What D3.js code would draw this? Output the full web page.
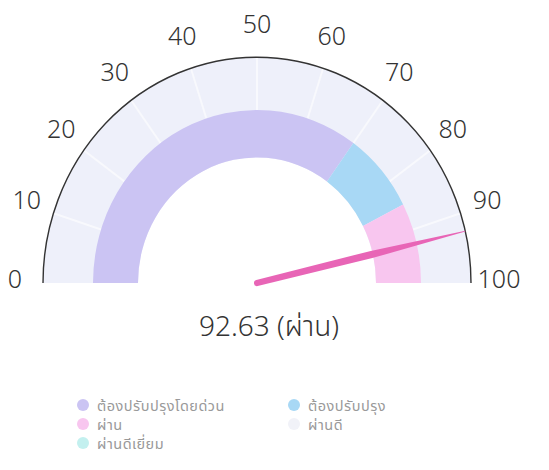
<!DOCTYPE html>
<html>
<head>
<meta charset="utf-8">
<script src="https://cdn.jsdelivr.net/npm/d3@7"></script>
<style>
  body { margin: 0; background: #fff; }
  svg { display: block; font-family: "Noto Sans", "Noto Sans Thai", sans-serif; }
</style>
</head>
<body>
<svg id="chart" width="549" height="470"></svg>
<script>
// gauge value
const gaugeValue = 92.63
const gaugeLabel = 'ผ่าน'

// coloured band on the gauge
const bandFrom = [0, 70, 85]
const bandTo = [70, 85, 100]
const bandColors = ['#cbc4f3', '#a8d8f5', '#f8c6ef']

// ticks
const tickValues = [0, 10, 20, 30, 40, 50, 60, 70, 80, 90, 100]

// legend
const legendNames = ['ต้องปรับปรุงโดยด่วน', 'ต้องปรับปรุง', 'ผ่าน', 'ผ่านดี', 'ผ่านดีเยี่ยม']
const legendColors = ['#cbc4f3', '#a8d8f5', '#f8c6ef', '#f1f2f8', '#c3f0ef']

const cx = 257
const cy = 283
const stretchY = 1.055 // the picture is a bit taller than it is wide
const rOuter = 214
const rBandOuter = 164
const rBandInner = 119
const rLabel = 242

const svg = d3.select('#chart')

const angle = d3.scaleLinear()
  .domain([0, 100])
  .range([-Math.PI / 2, Math.PI / 2])

const g = svg.append('g')
  .attr('transform', `translate(${cx},${cy}) scale(1,${stretchY})`)

// light background band
g.append('path')
  .attr('d', d3.arc()({
    innerRadius: rBandInner,
    outerRadius: rOuter,
    startAngle: angle(0),
    endAngle: angle(100)
  }))
  .attr('fill', '#eef0fa')

// split lines in the outer band
g.selectAll('line.split')
  .data(tickValues.slice(1, -1))
  .enter()
  .append('line')
  .attr('class', 'split')
  .attr('x1', d => rBandOuter * Math.sin(angle(d)))
  .attr('y1', d => -rBandOuter * Math.cos(angle(d)))
  .attr('x2', d => rOuter * Math.sin(angle(d)))
  .attr('y2', d => -rOuter * Math.cos(angle(d)))
  .attr('stroke', '#fff')
  .attr('stroke-width', 2)
  .attr('opacity', 0.6)

// coloured bands
g.selectAll('path.band')
  .data(bandFrom.map((f, i) => ({ from: f, to: bandTo[i], color: bandColors[i] })))
  .enter()
  .append('path')
  .attr('class', 'band')
  .attr('d', d => d3.arc()({
    innerRadius: rBandInner,
    outerRadius: rBandOuter,
    startAngle: angle(d.from),
    endAngle: angle(d.to)
  }))
  .attr('fill', d => d.color)

// outer axis line
g.append('path')
  .attr('d', d3.arc()({
    innerRadius: rOuter,
    outerRadius: rOuter,
    startAngle: angle(0),
    endAngle: angle(100)
  }))
  .attr('fill', 'none')
  .attr('stroke', '#333')
  .attr('stroke-width', 1.4)

// needle, drawn pointing up then rotated
const L = rOuter
g.append('path')
  .attr('d', `M -3 0 A 3 3 0 0 0 3 0 L 3.5 ${-L * 0.55} L 0.4 ${-L} L -0.4 ${-L} L -3.5 ${-L * 0.55} Z`)
  .attr('fill', '#e865b6')
  .attr('transform', `rotate(${angle(gaugeValue) * 180 / Math.PI})`)

// tick labels
svg.selectAll('text.tick')
  .data(tickValues)
  .enter()
  .append('text')
  .attr('class', 'tick')
  .attr('x', d => cx + rLabel * Math.sin(angle(d)))
  .attr('y', d => cy - 5 - rLabel * Math.cos(angle(d)) * stretchY)
  .attr('text-anchor', 'middle')
  .attr('dominant-baseline', 'central')
  .attr('font-size', 25)
  .attr('font-weight', 300)
  .attr('fill', '#333')
  .text(d => d)

// value text
svg.append('text')
  .attr('x', 269)
  .attr('y', 325)
  .attr('text-anchor', 'middle')
  .attr('dominant-baseline', 'central')
  .attr('font-size', 28)
  .attr('font-weight', 300)
  .attr('fill', '#333')
  .text(`${gaugeValue} (${gaugeLabel})`)

// legend, two columns
const legend = svg.append('g')
const colX = [83, 294]
const rowY = [405, 424, 443]
const items = legend.selectAll('g')
  .data(legendNames.map((n, i) => ({ name: n, color: legendColors[i], i })))
  .enter()
  .append('g')
  .attr('transform', d => `translate(${colX[d.i % 2]},${rowY[Math.floor(d.i / 2)]})`)

items.append('circle')
  .attr('r', 6)
  .attr('fill', d => d.color)

items.append('text')
  .attr('x', 14)
  .attr('dominant-baseline', 'central')
  .attr('font-size', 14.5)
  .attr('letter-spacing', 0.5)
  .attr('fill', '#999')
  .text(d => d.name)
</script>
</body>
</html>
